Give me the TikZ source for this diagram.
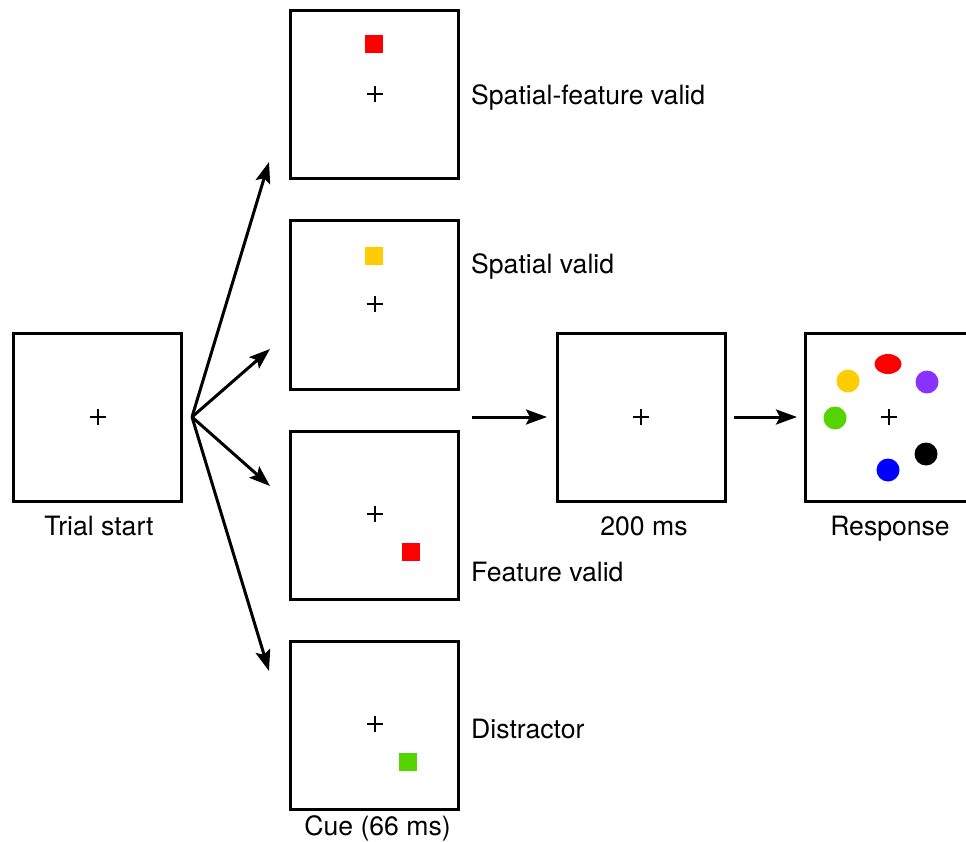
\documentclass[tikz,border=0pt]{standalone}
\usepackage{fontspec}
\setmainfont{TeX Gyre Heros}
\usetikzlibrary{arrows.meta,shapes.geometric}

\definecolor{cuered}{HTML}{FF0000}
\definecolor{cueyellow}{HTML}{FFCC00}
\definecolor{cuegreen}{HTML}{55D400}
\definecolor{cuepurple}{HTML}{8833FF}
\definecolor{cueblue}{HTML}{0000FF}

\tikzset{
  screen/.style={draw, line width=3pt, minimum width=168pt, minimum height=168pt,
                 inner sep=0pt, outer sep=0pt, fill=white},
  lbl/.style={font=\fontsize{26.6}{30}\selectfont, inner sep=0pt, anchor=base},
  flow/.style={line width=3pt, -{Stealth[length=21pt,width=15pt,inset=4pt]}},
  patch/.style={minimum size=18pt, inner sep=0pt, outer sep=0pt},
  dot/.style={circle, minimum size=23pt, inner sep=0pt},
  fixcross/.pic={\draw[line width=2pt] (-8,0) -- (8,0) (0,-8) -- (0,8);}
}

\begin{document}
\begin{tikzpicture}[x=1pt, y=-1pt]
\useasboundingbox (0,0) rectangle (966,842);
\clip (0,0) rectangle (966,842);

% trial start screen
\node[screen] (start) at (97.5,417) {};
\pic at (start.center) {fixcross};
\node[lbl] (startlbl) at (99,535) {Trial start};

% cue screens
\node[screen] (cueA) at (374.5,95) {};
\node[screen] (cueB) at (374.5,305) {};
\node[screen] (cueC) at (374.5,515) {};
\node[screen] (cueD) at (374.5,725) {};
\foreach \c in {cueA,cueB,cueC,cueD} {\pic at ([yshift=1pt]\c.center) {fixcross};}
\node[patch, fill=cuered]    (sqA) at (374,44)  {};
\node[patch, fill=cueyellow] (sqB) at (374,256) {};
\node[patch, fill=cuered]    (sqC) at (411,552) {};
\node[patch, fill=cuegreen]  (sqD) at (408,762) {};

\node[lbl, anchor=base west] (lblA) at (471,105) {Spatial-feature valid};
\node[lbl, anchor=base west] (lblB) at (471,273) {Spatial valid};
\node[lbl, anchor=base west] (lblC) at (471,581) {Feature valid};
\node[lbl, anchor=base west] (lblD) at (471,738) {Distractor};
\node[lbl] (cuelbl) at (377.5,835) {Cue (66 ms)};

% delay screen
\node[screen] (wait) at (641,417) {};
\pic at (wait.center) {fixcross};
\node[lbl] (waitlbl) at (644,535) {200 ms};

% response screen
\node[screen] (resp) at (889,417) {};
\pic at (resp.center) {fixcross};
\node[lbl] (resplbl) at (890,535) {Response};
\node[ellipse, fill=cuered, minimum width=27pt, minimum height=20pt, inner sep=0pt] (dred) at (888,364) {};
\node[dot, fill=cueyellow] (dyellow) at (848,381) {};
\node[dot, fill=cuepurple] (dpurple) at (927,382) {};
\node[dot, fill=cuegreen]  (dgreen)  at (835,418) {};
\node[dot, fill=black]     (dblack)  at (926,454) {};
\node[dot, fill=cueblue]   (dblue)   at (888,470) {};

% fan of cue arrows
\coordinate (fan) at (192,417);
\coordinate (tipA) at (269,162);
\coordinate (tipB) at (270,349);
\coordinate (tipC) at (270,486);
\coordinate (tipD) at (269,671);
\foreach \t in {tipA,tipB,tipC,tipD} {\draw[flow] (fan) -- (\t);}

% sequence arrows
\coordinate (cueout) at (472,417);
\coordinate (waitin) at (547,417);
\coordinate (waitout) at (734,417);
\coordinate (respin) at (797,417);
\draw[flow] (cueout) -- (waitin);
\draw[flow] (waitout) -- (respin);
\end{tikzpicture}
\end{document}
